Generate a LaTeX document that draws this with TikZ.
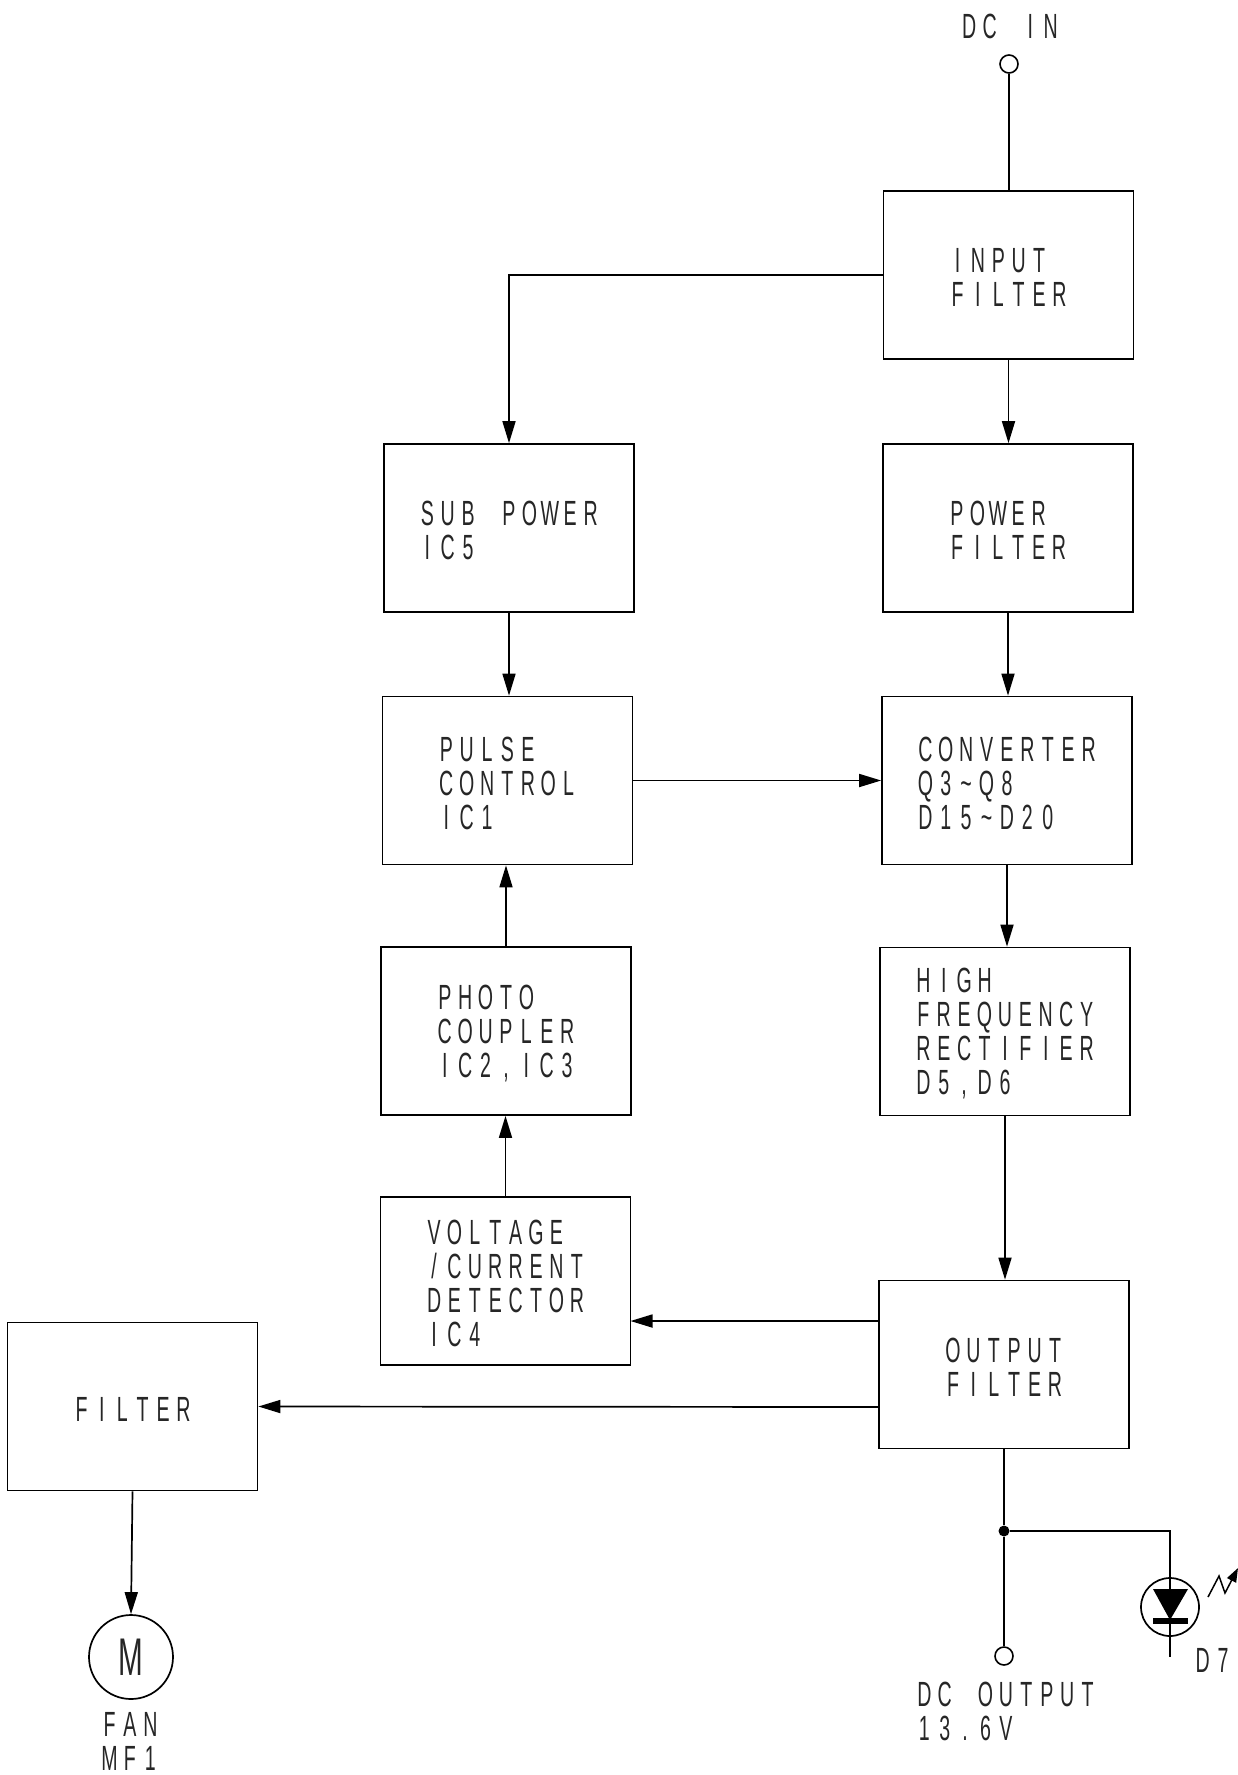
\documentclass[tikz,border=0pt]{standalone}
\usepackage{fontspec}
\setmainfont[FakeStretch=0.56]{Liberation Sans}
\usetikzlibrary{arrows.meta}
\makeatletter
\def\mn#1{\mn@i#1\relax}
\def\mn@i#1{\ifx#1\relax\else\makebox[20.4pt]{#1}\expandafter\mn@i\fi}
\makeatother
\tikzset{
  x=1pt,y=-1pt,
  blk/.style={draw,line width=1.7pt,minimum width=250pt,minimum height=168pt,inner sep=0pt},
  lbl/.style={inner sep=0pt,align=left,font=\fontsize{35}{34}\selectfont,text=black!85},
  boxtext/.style={label={[lbl,yshift=-2.5pt]center:{#1}}},
  wire/.style={line width=1.7pt},
  arr/.style={wire,-{Triangle[length=22pt,width=13pt]}},
  term/.style={circle,draw,line width=1.6pt,minimum size=18pt,inner sep=0pt},
  round1/.style={circle,draw,line width=1.7pt,inner sep=0pt}
}
\begin{document}
\begin{tikzpicture}
\useasboundingbox (0,0) rectangle (1238,1775);
\node[blk,boxtext={\mn{INPUT}\\\mn{FILTER}}] (input) at (1008.5,275) {};
\node[blk,boxtext={\mn{POWER}\\\mn{FILTER}}] (power) at (1008,528) {};
\node[blk,boxtext={\mn{CONVERTER}\\\mn{Q3\textasciitilde Q8}\\\mn{D15\textasciitilde D20}}] (conv) at (1007,780.5) {};
\node[blk,boxtext={\mn{HIGH}\\\mn{FREQUENCY}\\\mn{RECTIFIER}\\\mn{D5,D6}}] (hf) at (1005,1031.5) {};
\node[blk,boxtext={\mn{OUTPUT}\\\mn{FILTER}}] (output) at (1004,1364.5) {};
\node[blk,boxtext={\mn{SUB~POWER}\\\mn{IC5}}] (sub) at (509,528) {};
\node[blk,boxtext={\mn{PULSE}\\\mn{CONTROL}\\\mn{IC1}}] (pulse) at (507.5,780.5) {};
\node[blk,boxtext={\mn{PHOTO}\\\mn{COUPLER}\\\mn{IC2,IC3}}] (photo) at (506,1031) {};
\node[blk,boxtext={\mn{VOLTAGE}\\\mn{/CURRENT}\\\mn{DETECTOR}\\\mn{IC4}}] (volt) at (505.5,1281) {};
\node[blk,boxtext={\mn{FILTER}}] (filter) at (132.5,1406.5) {};
\node[round1,minimum size=84pt,font=\fontsize{53}{53}\selectfont,text=black!85] (fan) at (131,1657) {M};
\node[term] (dcin) at (1009,64) {};
\node[term] (dcout) at (1004,1656) {};
\node[circle,fill=black,minimum size=11pt,inner sep=0pt] (junc) at (1004,1531) {};
\node[round1,minimum size=58pt] (led) at (1170,1607) {};
\node[lbl] (tin) at (1010,26) {\mn{DC~IN}};
\node[lbl,anchor=north west] (tout) at (914,1682) {\mn{DC~OUTPUT}\\\mn{13.6V}};
\node[lbl] (td7) at (1213,1660) {\mn{D7}};
\node[lbl] (tfan) at (130,1741) {\mn{FAN}\\\mn{MF1}};
\coordinate (oa) at (879,1321);
\coordinate (va) at (630.5,1321);
\coordinate (ob) at (879,1407);
\coordinate (ledend) at (1170,1657);
\coordinate (z1) at (1208,1597);
\coordinate (z2) at (1219,1576);
\coordinate (z3) at (1225,1593);
\coordinate (z4) at (1238,1568);
\draw[wire] (dcin) -- (input.north -| dcin);
\draw[arr] (input.south) -- (input.south |- power.north);
\draw[arr] (power.south) -- (power.south |- conv.north);
\draw[arr] (conv.south) -- (conv.south |- hf.north);
\draw[arr] (hf.south) -- (hf.south |- output.north);
\draw[arr] (input.west) -| (sub.north);
\draw[arr] (sub.south) -- (sub.south |- pulse.north);
\draw[arr] (pulse.east) -- (conv.west);
\draw[arr] (photo.north) -- (photo.north |- pulse.south);
\draw[arr] (volt.north) -- (volt.north |- photo.south);
\draw[arr] (oa) -- (va);
\draw[arr] (ob) -- (filter.east);
\draw[arr] (filter.south) -- (fan.north);
\draw[wire] (output.south) -- (junc);
\draw[wire] (junc) -- (dcout);
\draw[wire] (junc) -| (led.north);
\draw[wire] (led.north) -- (ledend);
\fill (1153,1589) -- (1188,1589) -- (1170,1620) -- cycle;
\fill (1153,1618) rectangle (1188,1624);
\draw[line width=1.5pt,-{Triangle[length=14pt,width=10pt]}] (z1) -- (z2) -- (z3) -- (z4);
\end{tikzpicture}
\end{document}
